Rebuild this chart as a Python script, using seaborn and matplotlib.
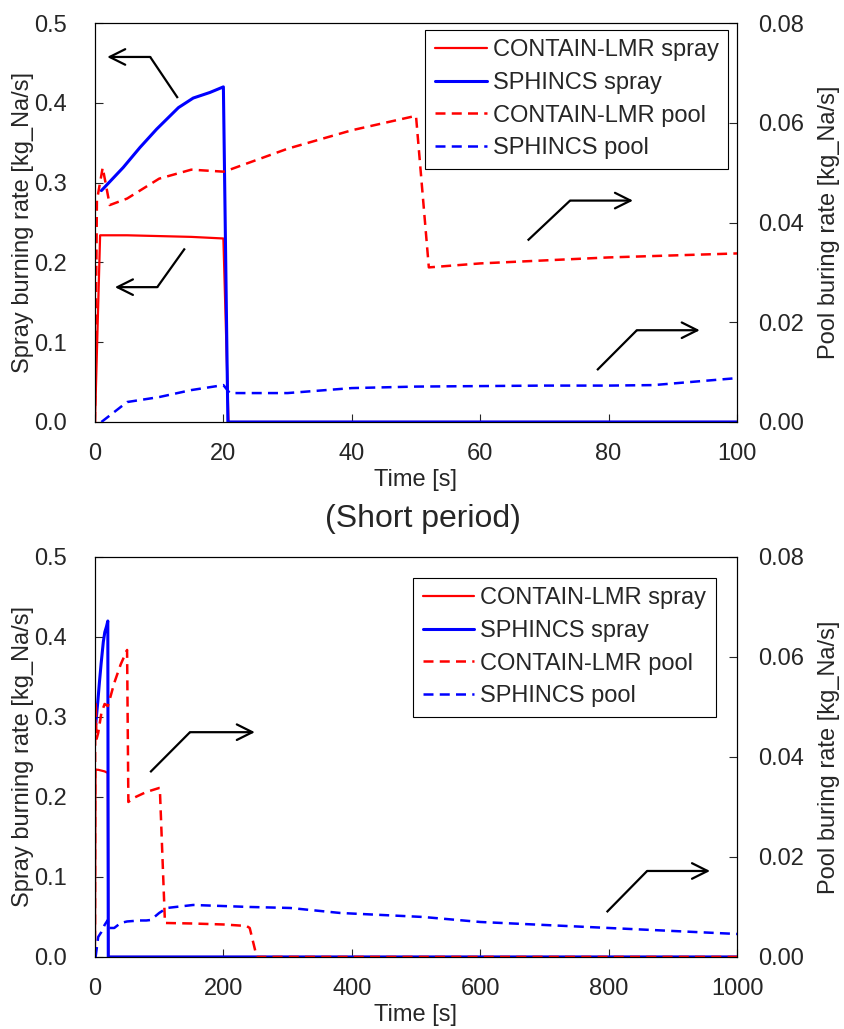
import numpy as np
import pandas as pd
import matplotlib
matplotlib.use('Agg')
import matplotlib.pyplot as plt
import seaborn as sns

# Burning rate histories (time in s, rate in kg_Na/s)
contain_spray_t = [0, 0.8, 5, 10, 15, 20, 20.8, 30, 1000]
contain_spray_v = [0, 0.234, 0.234, 0.233, 0.232, 0.230, 0.0, 0.0, 0.0]

sphincs_spray_t = [1.0, 4.4, 7.0, 9.6, 13.0, 15.3, 17.9, 20.0, 20.7, 30, 1000]
sphincs_spray_v = [0.29, 0.319, 0.344, 0.367, 0.394, 0.406, 0.413, 0.42, 0.0, 0.0, 0.0]

contain_pool_t = [0, 0.3, 1.2, 2.3, 5, 10, 15, 20, 21, 30, 40, 50, 52, 60, 70, 80, 90, 100,
                  101, 109, 150, 200, 236, 241, 252, 300, 1000]
contain_pool_v = [0, 0.0444, 0.051, 0.0435, 0.0448, 0.0488, 0.0506, 0.0502, 0.0506, 0.0548,
                  0.0585, 0.0614, 0.031, 0.0318, 0.0324, 0.033, 0.0334, 0.0338,
                  0.0338, 0.0068, 0.0067, 0.0065, 0.0062, 0.0058, 0.0, 0.0, 0.0]

sphincs_pool_t = [1, 5, 10, 15, 20, 21, 30, 40, 50, 60, 70, 80, 87, 100, 112, 153, 241,
                  304, 382, 511, 600, 800, 1000]
sphincs_pool_v = [0, 0.004, 0.005, 0.0064, 0.0074, 0.0058, 0.0058, 0.0068, 0.0071, 0.0072,
                  0.0073, 0.0073, 0.0074, 0.0088, 0.0098, 0.0104, 0.010, 0.0098, 0.0088,
                  0.008, 0.007, 0.0058, 0.0046]

series_labels = ['CONTAIN-LMR spray', 'SPHINCS spray', 'CONTAIN-LMR pool', 'SPHINCS pool']

# annotation arrows (start, elbow, tip) in left-axis coordinates
top_arrows = [((12.9, 0.406), (8.6, 0.4575), (1.9, 0.4575)),
              ((14.0, 0.2175), (9.7, 0.169), (3.1, 0.169)),
              ((67.4, 0.2275), (74.0, 0.2775), (83.8, 0.2775)),
              ((78.2, 0.065), (84.4, 0.115), (94.2, 0.115))]
bottom_arrows = [((86, 0.231), (148, 0.281), (249, 0.281)),
                 ((797, 0.056), (860, 0.1075), (958, 0.1075))]

sns.set_style('ticks')
plt.rcParams['font.family'] = ['Liberation Sans', 'DejaVu Sans']

fig = plt.figure(figsize=(8.45, 10.29), dpi=100)
ax_top = fig.add_axes([0.1124, 0.5899, 0.7598, 0.3877])
ax_bot = fig.add_axes([0.1124, 0.0700, 0.7598, 0.3887])

dash = (0, (4, 2.5))


def draw_panel(ax, xmax, xticks, arrows, legend_anchor):
    ax2 = ax.twinx()
    sns.lineplot(x=contain_spray_t, y=contain_spray_v, ax=ax, color='#ff0000', lw=1.6,
                 label=series_labels[0], estimator=None, sort=False)
    sns.lineplot(x=sphincs_spray_t, y=sphincs_spray_v, ax=ax, color='#0000ff', lw=2.2,
                 label=series_labels[1], estimator=None, sort=False)
    sns.lineplot(x=contain_pool_t, y=contain_pool_v, ax=ax2, color='#ff0000', lw=1.8,
                 linestyle=dash, label=series_labels[2], estimator=None, sort=False)
    sns.lineplot(x=sphincs_pool_t, y=sphincs_pool_v, ax=ax2, color='#0000ff', lw=1.8,
                 linestyle=dash, label=series_labels[3], estimator=None, sort=False)

    ax.set_xlim(0, xmax)
    ax.set_ylim(0, 0.5)
    ax2.set_ylim(0, 0.08)
    ax.set_xticks(xticks)
    ax.set_yticks(np.arange(0, 0.51, 0.1))
    ax2.set_yticks(np.arange(0, 0.081, 0.02))
    ax.set_yticklabels(['%.1f' % v for v in np.arange(0, 0.51, 0.1)])
    ax2.set_yticklabels(['%.2f' % v for v in np.arange(0, 0.081, 0.02)])

    ax.tick_params(direction='in', length=6, width=0.8, labelsize=17)
    ax.tick_params(axis='x', pad=15)
    ax.tick_params(axis='y', pad=20)
    ax2.tick_params(direction='in', length=6, width=0.8, labelsize=17, pad=15)
    ax.set_xlabel('Time [s]', fontsize=17, labelpad=3)
    ax.set_ylabel('Spray burning rate [kg_Na/s]', fontsize=17, labelpad=0)
    ax2.set_ylabel('Pool buring rate [kg_Na/s]', fontsize=17, labelpad=10)
    for a in (ax, ax2):
        for s in a.spines.values():
            s.set_color('black')
            s.set_linewidth(0.8)

    for start, elbow, tip in arrows:
        ax.plot([start[0], elbow[0]], [start[1], elbow[1]], color='black', lw=1.6,
                solid_capstyle='butt')
        ax.annotate('', xy=tip, xytext=elbow,
                    arrowprops=dict(arrowstyle='->', lw=1.6, color='black',
                                    mutation_scale=28, shrinkA=0, shrinkB=0))

    handles = ax.get_legend_handles_labels()[0] + ax2.get_legend_handles_labels()[0]
    ax.get_legend().remove()
    ax2.get_legend().remove()
    leg = ax2.legend(handles, series_labels, loc='upper right', bbox_to_anchor=legend_anchor,
                     borderaxespad=0, fontsize=17, frameon=True, fancybox=False,
                     edgecolor='black', framealpha=1, handlelength=2.2, handletextpad=0.25,
                     labelspacing=0.45, borderpad=0.4)
    leg.get_frame().set_linewidth(0.8)
    return ax2


draw_panel(ax_top, 100, [0, 20, 40, 60, 80, 100], top_arrows, (0.986, 0.9825))
draw_panel(ax_bot, 1000, [0, 200, 400, 600, 800, 1000], bottom_arrows, (0.967, 0.9475))

fig.text(0.5, 1 - 519 / 1029, '(Short period)', ha='center', va='center', fontsize=23)

fig.savefig('out.png', dpi=100)
